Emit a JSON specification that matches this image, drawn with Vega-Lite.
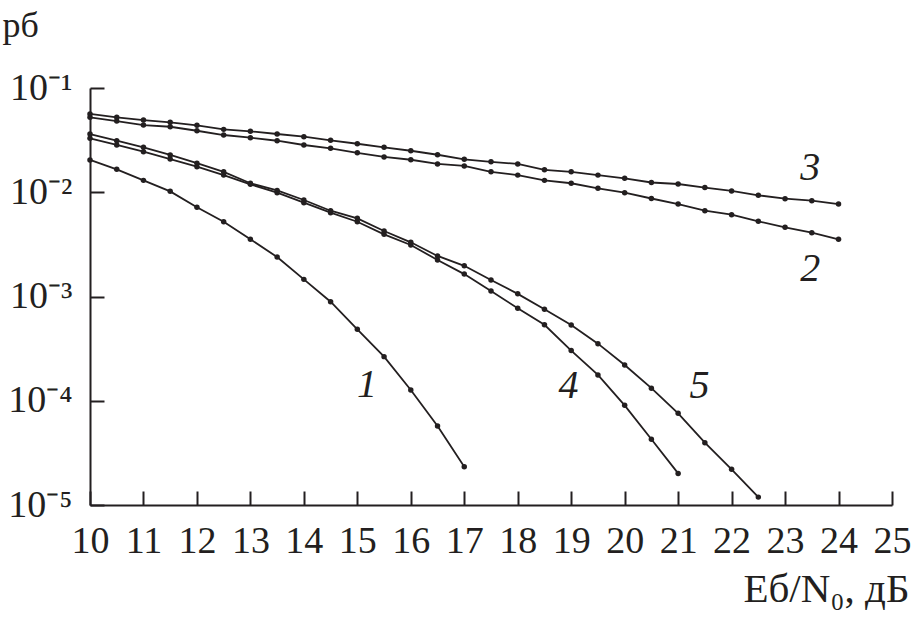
{
  "$schema": "https://vega.github.io/schema/vega-lite/v6.json",
  "width": 802,
  "height": 417,
  "autosize": "none",
  "padding": {"left": 90, "top": 88, "right": 21, "bottom": 119},
  "background": "white",
  "config": {
    "view": {"stroke": null, "fill": null},
    "font": "Liberation Serif",
    "axis": {
      "grid": false,
      "domainColor": "#231f20",
      "domainWidth": 2,
      "tickColor": "#231f20",
      "tickWidth": 2,
      "labelFont": "Liberation Serif",
      "labelFontSize": 38,
      "labelColor": "#231f20",
      "titleFont": "Liberation Serif",
      "titleFontSize": 38,
      "titleFontWeight": "normal",
      "titleColor": "#231f20"
    }
  },
  "datasets": {
    "curves": [
      {"curve": "1", "x": 10, "p": 0.0204},
      {"curve": "1", "x": 10.5, "p": 0.0166},
      {"curve": "1", "x": 11, "p": 0.0130},
      {"curve": "1", "x": 11.5, "p": 0.0102},
      {"curve": "1", "x": 12, "p": 0.00718},
      {"curve": "1", "x": 12.5, "p": 0.00522},
      {"curve": "1", "x": 13, "p": 0.00354},
      {"curve": "1", "x": 13.5, "p": 0.00239},
      {"curve": "1", "x": 14, "p": 0.00146},
      {"curve": "1", "x": 14.5, "p": 0.000891},
      {"curve": "1", "x": 15, "p": 0.000484},
      {"curve": "1", "x": 15.5, "p": 0.000265},
      {"curve": "1", "x": 16, "p": 0.000127},
      {"curve": "1", "x": 16.5, "p": 0.0000573},
      {"curve": "1", "x": 17, "p": 0.0000233},

      {"curve": "2", "x": 10, "p": 0.0523},
      {"curve": "2", "x": 10.5, "p": 0.0482},
      {"curve": "2", "x": 11, "p": 0.0441},
      {"curve": "2", "x": 11.5, "p": 0.0425},
      {"curve": "2", "x": 12, "p": 0.0389},
      {"curve": "2", "x": 12.5, "p": 0.0354},
      {"curve": "2", "x": 13, "p": 0.0334},
      {"curve": "2", "x": 13.5, "p": 0.0312},
      {"curve": "2", "x": 14, "p": 0.0284},
      {"curve": "2", "x": 14.5, "p": 0.0264},
      {"curve": "2", "x": 15, "p": 0.0239},
      {"curve": "2", "x": 15.5, "p": 0.0218},
      {"curve": "2", "x": 16, "p": 0.0205},
      {"curve": "2", "x": 16.5, "p": 0.0187},
      {"curve": "2", "x": 17, "p": 0.0179},
      {"curve": "2", "x": 17.5, "p": 0.0157},
      {"curve": "2", "x": 18, "p": 0.0146},
      {"curve": "2", "x": 18.5, "p": 0.0130},
      {"curve": "2", "x": 19, "p": 0.0122},
      {"curve": "2", "x": 19.5, "p": 0.0109},
      {"curve": "2", "x": 20, "p": 0.00990},
      {"curve": "2", "x": 20.5, "p": 0.00871},
      {"curve": "2", "x": 21, "p": 0.00771},
      {"curve": "2", "x": 21.5, "p": 0.00665},
      {"curve": "2", "x": 22, "p": 0.00609},
      {"curve": "2", "x": 22.5, "p": 0.00526},
      {"curve": "2", "x": 23, "p": 0.00461},
      {"curve": "2", "x": 23.5, "p": 0.00409},
      {"curve": "2", "x": 24, "p": 0.00354},

      {"curve": "3", "x": 10, "p": 0.0564},
      {"curve": "3", "x": 10.5, "p": 0.0523},
      {"curve": "3", "x": 11, "p": 0.0493},
      {"curve": "3", "x": 11.5, "p": 0.0469},
      {"curve": "3", "x": 12, "p": 0.0439},
      {"curve": "3", "x": 12.5, "p": 0.0401},
      {"curve": "3", "x": 13, "p": 0.0384},
      {"curve": "3", "x": 13.5, "p": 0.0362},
      {"curve": "3", "x": 14, "p": 0.0341},
      {"curve": "3", "x": 14.5, "p": 0.0315},
      {"curve": "3", "x": 15, "p": 0.0292},
      {"curve": "3", "x": 15.5, "p": 0.0270},
      {"curve": "3", "x": 16, "p": 0.0250},
      {"curve": "3", "x": 16.5, "p": 0.0229},
      {"curve": "3", "x": 17, "p": 0.0207},
      {"curve": "3", "x": 17.5, "p": 0.0196},
      {"curve": "3", "x": 18, "p": 0.0187},
      {"curve": "3", "x": 18.5, "p": 0.0164},
      {"curve": "3", "x": 19, "p": 0.0157},
      {"curve": "3", "x": 19.5, "p": 0.0146},
      {"curve": "3", "x": 20, "p": 0.0136},
      {"curve": "3", "x": 20.5, "p": 0.0124},
      {"curve": "3", "x": 21, "p": 0.0120},
      {"curve": "3", "x": 21.5, "p": 0.0111},
      {"curve": "3", "x": 22, "p": 0.0103},
      {"curve": "3", "x": 22.5, "p": 0.00935},
      {"curve": "3", "x": 23, "p": 0.00867},
      {"curve": "3", "x": 23.5, "p": 0.00830},
      {"curve": "3", "x": 24, "p": 0.00771},

      {"curve": "4", "x": 10, "p": 0.0329},
      {"curve": "4", "x": 10.5, "p": 0.0284},
      {"curve": "4", "x": 11, "p": 0.0245},
      {"curve": "4", "x": 11.5, "p": 0.0208},
      {"curve": "4", "x": 12, "p": 0.0176},
      {"curve": "4", "x": 12.5, "p": 0.0146},
      {"curve": "4", "x": 13, "p": 0.0119},
      {"curve": "4", "x": 13.5, "p": 0.00990},
      {"curve": "4", "x": 14, "p": 0.00794},
      {"curve": "4", "x": 14.5, "p": 0.00637},
      {"curve": "4", "x": 15, "p": 0.00521},
      {"curve": "4", "x": 15.5, "p": 0.00395},
      {"curve": "4", "x": 16, "p": 0.00312},
      {"curve": "4", "x": 16.5, "p": 0.00224},
      {"curve": "4", "x": 17, "p": 0.00164},
      {"curve": "4", "x": 17.5, "p": 0.00113},
      {"curve": "4", "x": 18, "p": 0.000771},
      {"curve": "4", "x": 18.5, "p": 0.000536},
      {"curve": "4", "x": 19, "p": 0.000303},
      {"curve": "4", "x": 19.5, "p": 0.000177},
      {"curve": "4", "x": 20, "p": 0.0000904},
      {"curve": "4", "x": 20.5, "p": 0.0000427},
      {"curve": "4", "x": 21, "p": 0.0000201},

      {"curve": "5", "x": 10, "p": 0.0362},
      {"curve": "5", "x": 10.5, "p": 0.0312},
      {"curve": "5", "x": 11, "p": 0.0270},
      {"curve": "5", "x": 11.5, "p": 0.0228},
      {"curve": "5", "x": 12, "p": 0.0190},
      {"curve": "5", "x": 12.5, "p": 0.0157},
      {"curve": "5", "x": 13, "p": 0.0122},
      {"curve": "5", "x": 13.5, "p": 0.0104},
      {"curve": "5", "x": 14, "p": 0.00843},
      {"curve": "5", "x": 14.5, "p": 0.00665},
      {"curve": "5", "x": 15, "p": 0.00562},
      {"curve": "5", "x": 15.5, "p": 0.00425},
      {"curve": "5", "x": 16, "p": 0.00331},
      {"curve": "5", "x": 16.5, "p": 0.00245},
      {"curve": "5", "x": 17, "p": 0.00197},
      {"curve": "5", "x": 17.5, "p": 0.00144},
      {"curve": "5", "x": 18, "p": 0.00106},
      {"curve": "5", "x": 18.5, "p": 0.000755},
      {"curve": "5", "x": 19, "p": 0.000533},
      {"curve": "5", "x": 19.5, "p": 0.000353},
      {"curve": "5", "x": 20, "p": 0.000220},
      {"curve": "5", "x": 20.5, "p": 0.000132},
      {"curve": "5", "x": 21, "p": 0.0000757},
      {"curve": "5", "x": 21.5, "p": 0.0000396},
      {"curve": "5", "x": 22, "p": 0.0000220},
      {"curve": "5", "x": 22.5, "p": 0.0000119}
    ],
    "labels": [
      {"label": "1", "x": 15.18, "p": 0.000142},
      {"label": "2", "x": 23.47, "p": 0.00185},
      {"label": "3", "x": 23.47, "p": 0.0172},
      {"label": "4", "x": 18.95, "p": 0.000140},
      {"label": "5", "x": 21.4, "p": 0.000140}
    ],
    "xticks": [
      {"x": 10}, {"x": 11}, {"x": 12}, {"x": 13}, {"x": 14}, {"x": 15}, {"x": 16}, {"x": 17},
      {"x": 18}, {"x": 19}, {"x": 20}, {"x": 21}, {"x": 22}, {"x": 23}, {"x": 24}, {"x": 25}
    ],
    "yticks": [
      {"p": 0.00001}, {"p": 0.0001}, {"p": 0.001}, {"p": 0.01}, {"p": 0.1}
    ]
  },
  "encoding": {
    "x": {
      "field": "x",
      "type": "quantitative",
      "scale": {"domain": [10, 25], "nice": false, "zero": false},
      "axis": {
        "orient": "top",
        "offset": -417,
        "zindex": 1,
        "values": [10, 11, 12, 13, 14, 15, 16, 17, 18, 19, 20, 21, 22, 23, 24, 25],
        "ticks": true,
        "tickSize": 14,
        "labelPadding": -31,
        "labelBaseline": "top",
        "labelFlush": false,
        "title": "Eб/N₀, дБ",
        "titleFontSize": 41,
        "titleAnchor": "end",
        "titleAlign": "right",
        "titleBaseline": "alphabetic",
        "titleX": 819,
        "titleY": 96
      }
    },
    "y": {
      "field": "p",
      "type": "quantitative",
      "scale": {"type": "log", "domain": [0.00001, 0.1], "nice": false},
      "axis": {
        "orient": "right",
        "offset": -802,
        "zindex": 1,
        "values": [0.00001, 0.0001, 0.001, 0.01, 0.1],
        "labelExpr": "datum.value > 0.05 ? '10⁻¹' : datum.value > 0.005 ? '10⁻²' : datum.value > 0.0005 ? '10⁻³' : datum.value > 0.00005 ? '10⁻⁴' : '10⁻⁵'",
        "ticks": true,
        "tickSize": 14,
        "labelPadding": -32,
        "labelAlign": "right",
        "labelBaseline": "middle",
        "labelDy": 9,
        "labelFlush": false,
        "title": "pб",
        "titleFontSize": 36,
        "titleAngle": 0,
        "titleAlign": "left",
        "titleBaseline": "alphabetic",
        "titleX": -88,
        "titleY": -52
      }
    }
  },
  "layer": [
    {
      "data": {"name": "curves"},
      "mark": {
        "type": "line",
        "color": "#231f20",
        "strokeWidth": 1.8,
        "point": {"filled": true, "size": 30, "color": "#231f20", "opacity": 1}
      },
      "encoding": {
        "detail": {"field": "curve"}
      }
    },
    {
      "data": {"name": "labels"},
      "mark": {
        "type": "text",
        "font": "Liberation Serif",
        "fontStyle": "italic",
        "fontSize": 40,
        "color": "#231f20",
        "align": "center",
        "baseline": "middle"
      },
      "encoding": {
        "text": {"field": "label"}
      }
    },
    {
      "data": {"name": "xticks"},
      "mark": {"type": "tick", "orient": "vertical", "size": 14, "thickness": 2, "yOffset": -7, "color": "#231f20", "opacity": 1},
      "encoding": {
        "y": {"datum": 0.00001, "type": "quantitative"}
      }
    },
    {
      "data": {"name": "yticks"},
      "mark": {"type": "tick", "orient": "horizontal", "size": 14, "thickness": 2, "xOffset": 7, "color": "#231f20", "opacity": 1},
      "encoding": {
        "x": {"datum": 10, "type": "quantitative"}
      }
    }
  ]
}
